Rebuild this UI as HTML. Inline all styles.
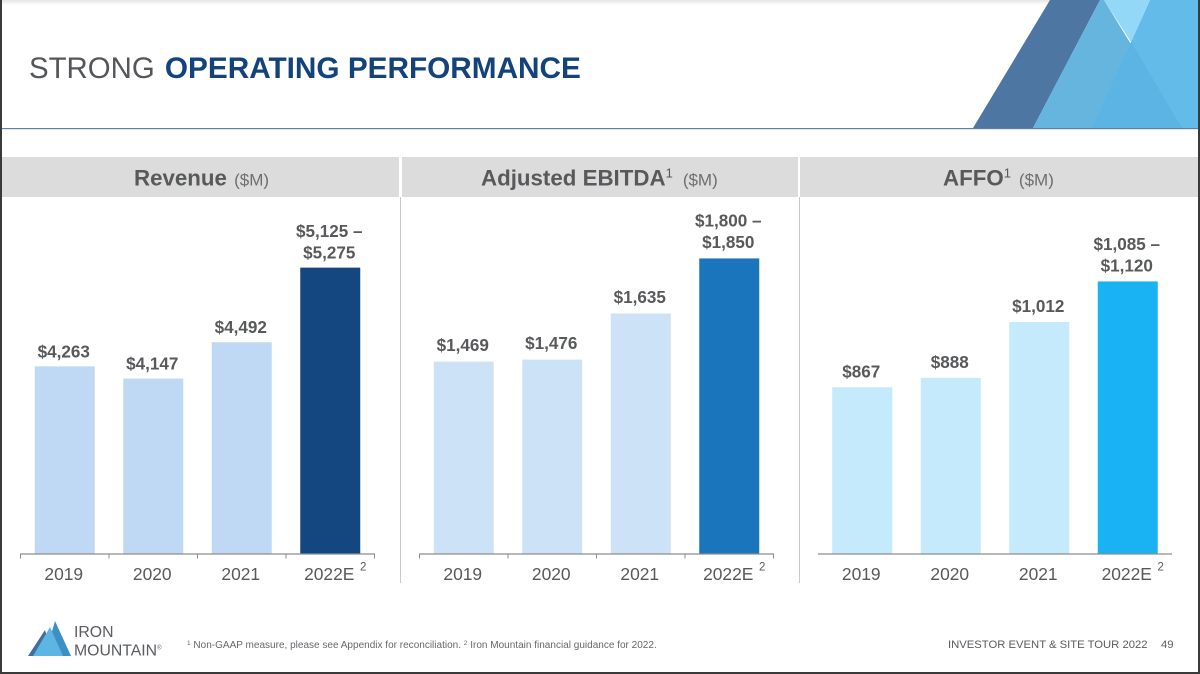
<!DOCTYPE html>
<html lang="en">
<head>
<meta charset="utf-8">
<title>Strong Operating Performance</title>
<style>
html,body{margin:0;padding:0;background:#fff;}
svg{display:block;font-family:"Liberation Sans",sans-serif;}
</style>
</head>
<body>
<svg id="slide" xmlns="http://www.w3.org/2000/svg" width="1200" height="674" viewBox="0 0 1200 674">
  <defs>
    <linearGradient id="topFade" x1="0" y1="0" x2="0" y2="1">
      <stop offset="0" stop-color="#e4e4e4"/>
      <stop offset="1" stop-color="#ffffff"/>
    </linearGradient>
  </defs>
  <rect width="1200" height="674" fill="#ffffff"/>
  <rect x="0" y="0" width="1200" height="5" fill="url(#topFade)"/>

  <g>
    <polygon points="973,128 1050,0 1100,0 1033,128" fill="#4e76a2"/>
    <polygon points="1033,128 1100,0 1104,0 1182,128" fill="#66b5de"/>
    <polygon points="1092,128 1150,0 1198,0 1198,128" fill="#62bbe8"/>
    <polygon points="1104,0 1150,0 1131,42" fill="#93d8f7"/>
    <polygon points="1092,128 1131,42 1182,128" fill="#5bb4e3"/>
  </g>

  <text x="29" y="78" font-size="29.4" fill="#54565a">STRONG <tspan font-weight="700" fill="#14437c" font-size="29.75" dx="2">OPERATING PERFORMANCE</tspan></text>
  <rect x="2" y="128" width="1196" height="1.2" fill="#5f80a4"/>

  <g id="charts"></g>

  <g>
    <polygon points="28,656 45,630 53,656" fill="#3f6f9c"/>
    <polygon points="45,656 55,621 71,656" fill="#3e8fc4"/>
    <polygon points="33,656 50,627 63,656" fill="#5cb5e2"/>
    <text x="74" y="637" font-size="15.8" fill="#5a5c60">IRON</text>
    <text x="74" y="655.5" font-size="15.8" fill="#5a5c60">MOUNTAIN<tspan font-size="6" dy="-6">®</tspan></text>
  </g>

  <text x="187" y="648" font-size="10.02" fill="#66686c"><tspan font-size="6.5" dy="-3">1</tspan><tspan dy="3"> Non-GAAP measure, please see Appendix for reconciliation. </tspan><tspan font-size="6.5" dy="-3">2</tspan><tspan dy="3"> Iron Mountain financial guidance for 2022.</tspan></text>
  <text x="948" y="648" font-size="11.27" fill="#5a5c60">INVESTOR EVENT &amp; SITE TOUR 2022</text>
  <text x="1161" y="648" font-size="11.27" fill="#5a5c60">49</text>

  <rect x="0" y="0" width="2" height="674" fill="#3a3a3a"/>
  <rect x="1198" y="0" width="2" height="674" fill="#3a3a3a"/>
  <rect x="0" y="672" width="1200" height="2" fill="#3a3a3a"/>
</svg>

<script>
const years = ['2019', '2020', '2021', '2022E'];
const revenueValues = [4263, 4147, 4492, 5200];
const revenueLabels = [['$4,263'], ['$4,147'], ['$4,492'], ['$5,125 –', '$5,275']];
const ebitdaValues = [1469, 1476, 1635, 1825];
const ebitdaLabels = [['$1,469'], ['$1,476'], ['$1,635'], ['$1,800 –', '$1,850']];
const affoValues = [867, 888, 1012, 1102];
const affoLabels = [['$867'], ['$888'], ['$1,012'], ['$1,085 –', '$1,120']];

const NS = 'http://www.w3.org/2000/svg';
const root = document.getElementById('charts');
const BASE_Y = 553.5;

function make(tag, attrs, parent, text) {
  const el = document.createElementNS(NS, tag);
  for (const k in attrs) el.setAttribute(k, attrs[k]);
  if (text !== undefined) el.textContent = text;
  parent.appendChild(el);
  return el;
}

function drawPanel(cfg) {
  const g = make('g', {}, root);
  
  

  const band = make('rect', { x: cfg.bandX, y: 157, width: cfg.bandW, height: 40, fill: '#dcdcdc' }, g);
  
  

  const title = make('text', { x: cfg.titleX, y: 185.5, 'font-size': 22.3, 'font-weight': 700, fill: '#58595b' }, g, cfg.title);
  
  
  if (cfg.sup) {
    make('tspan', { 'font-size': 13, 'font-weight': 400, dy: -8 }, title, '1');
  }
  make('tspan', { 'font-size': 17, 'font-weight': 400, fill: '#6d6e71', dx: cfg.unitGap, dy: cfg.sup ? 8 : 0 }, title, '($M)');

  const slotW = (cfg.axisEnd - cfg.axisStart) / years.length;
  const xScale = i => cfg.axisStart + slotW * (i + 0.5);
  const yScale = v => BASE_Y - (v - cfg.floor) / cfg.perPx;

  cfg.values.forEach((v, i) => {
    const top = yScale(v);
    const bar = make('rect', {
      x: xScale(i) - 30, y: top, width: 60, height: BASE_Y - top,
      fill: i === cfg.values.length - 1 ? cfg.strong : cfg.light
    }, g);
    
    

    const lines = cfg.labels[i];
    lines.forEach((line, j) => {
      const ly = top - cfg.labelGap - (lines.length - 1 - j) * 21.5;
      const lab = make('text', {
        x: xScale(i) - 1, y: ly, 'font-size': 17.1, 'font-weight': 700,
        fill: '#58595b', 'text-anchor': 'middle'
      }, g, line);
      
      
    });

    const yr = make('text', {
      x: xScale(i) - 1, y: 580, 'font-size': 17.4, fill: '#58595b', 'text-anchor': 'middle'
    }, g, years[i]);
    
    

    if (i === years.length - 1) {
      const sup = make('text', {
        x: xScale(i) + 33, y: 570.5, 'font-size': 11.5, fill: '#58595b', 'text-anchor': 'middle'
      }, g, '2');
      
      
    }
  });

  const axis = make('line', {
    x1: cfg.axisStart, x2: cfg.axisEnd, y1: BASE_Y + 0.5, y2: BASE_Y + 0.5,
    stroke: '#8e8e8e', 'stroke-width': 1.3
  }, g);
  
  

  for (let i = 0; i <= years.length && cfg.ticks; i++) {
    const tx = cfg.axisStart + slotW * i;
    const tick = make('line', {
      x1: tx, x2: tx, y1: BASE_Y, y2: BASE_Y + 5, stroke: '#8e8e8e', 'stroke-width': 1
    }, g);
    
    
  }
}

drawPanel({
  slug: 'revenue', title: 'Revenue ', sup: false, titleX: 134, unitGap: 1, ticks: true, labelGap: 9,
  bandX: 2, bandW: 397, axisStart: 20.5, axisEnd: 374.5,
  values: revenueValues, labels: revenueLabels,
  floor: 2487, perPx: 9.49, light: '#bfd8f4', strong: '#14477f'
});
drawPanel({
  slug: 'ebitda', title: 'Adjusted EBITDA', sup: true, titleX: 481, unitGap: 10, ticks: true, labelGap: 10.5,
  bandX: 402, bandW: 396, axisStart: 419.5, axisEnd: 773.5,
  values: ebitdaValues, labels: ebitdaLabels,
  floor: 807, perPx: 3.45, light: '#cce2f7', strong: '#1a75bc'
});
drawPanel({
  slug: 'affo', title: 'AFFO', sup: true, titleX: 943, unitGap: 8, ticks: false, labelGap: 10,
  bandX: 800, bandW: 398, axisStart: 818, axisEnd: 1172,
  values: affoValues, labels: affoLabels,
  floor: 498, perPx: 2.22, light: '#c4eafb', strong: '#19b2f2'
});

[400.5, 799.5].forEach((x) => {
  const sep = make('line', { x1: x, x2: x, y1: 197, y2: 583, stroke: '#c9c9c9', 'stroke-width': 1 }, root);
  
  
});
</script>
</body>
</html>
